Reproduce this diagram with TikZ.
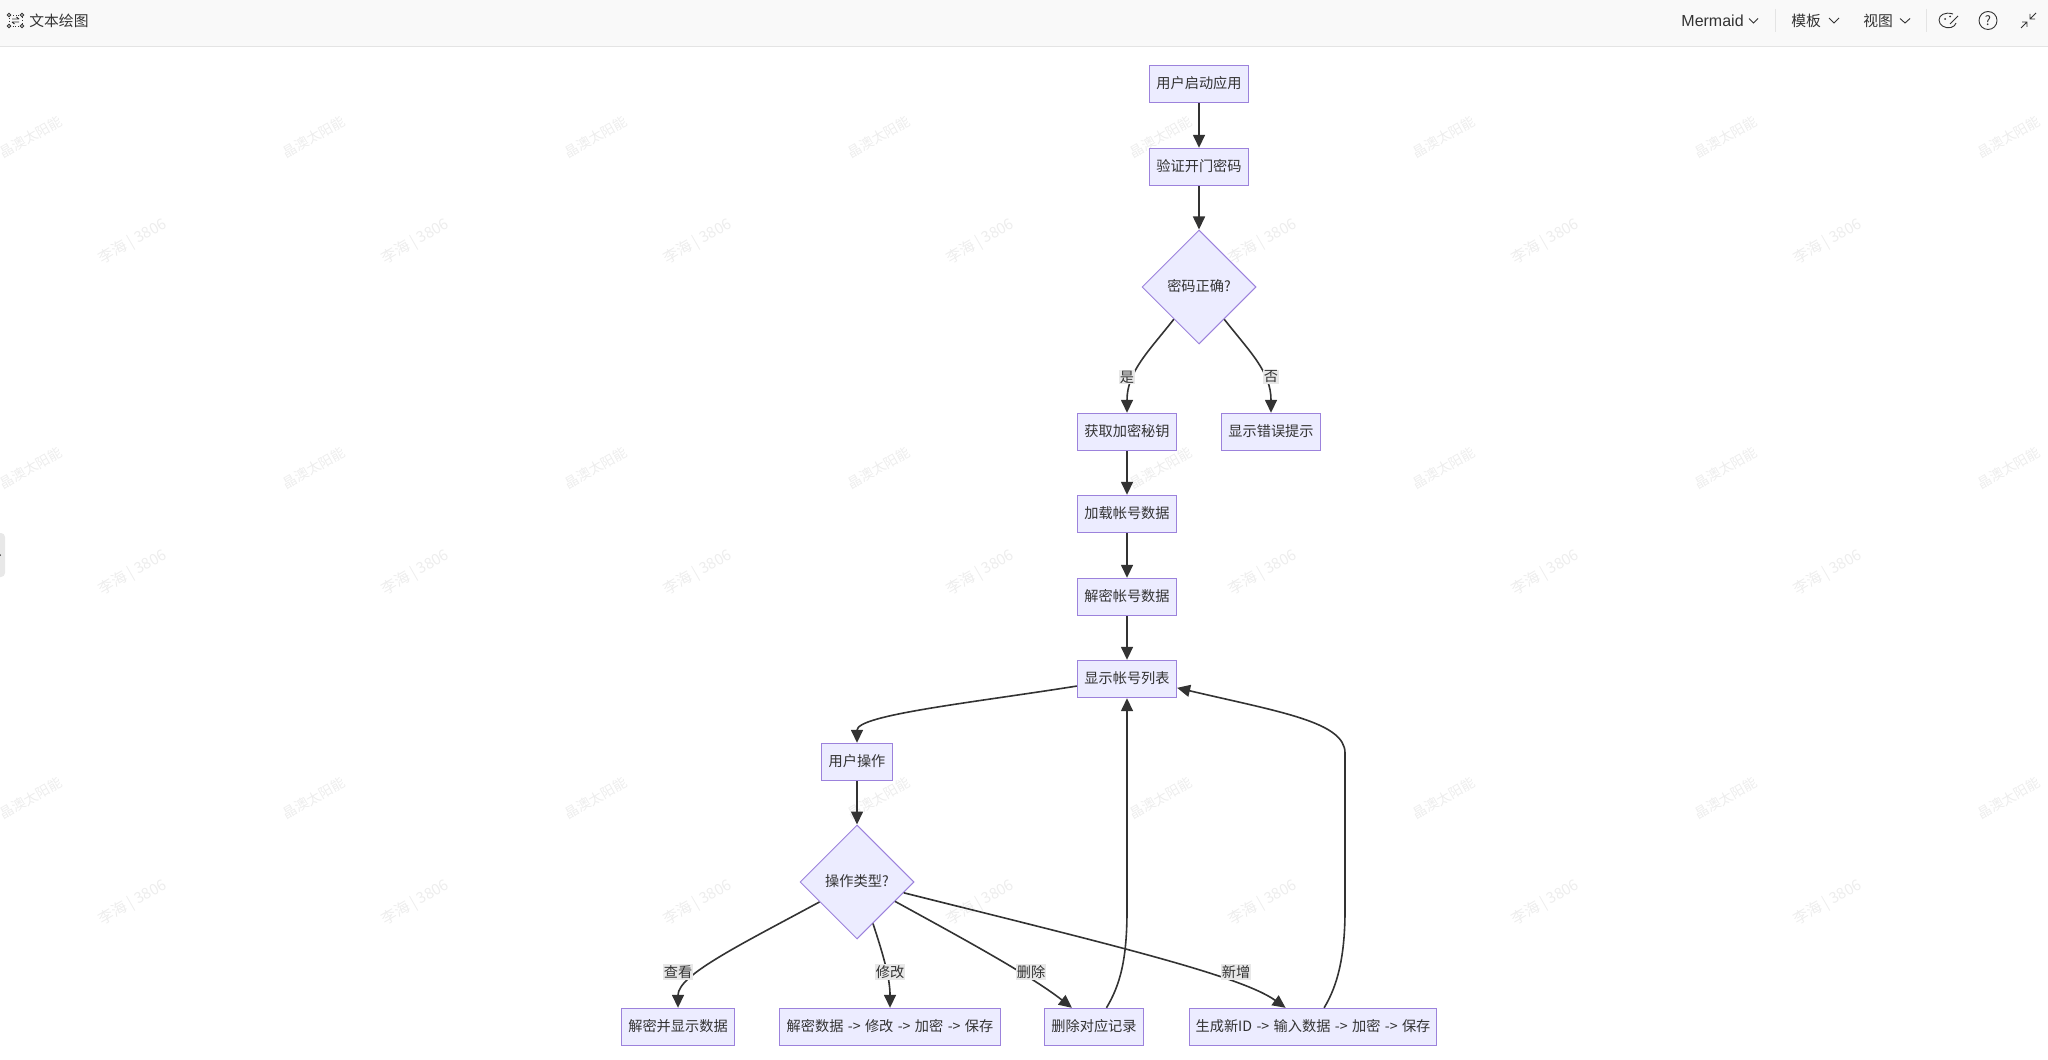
\documentclass[tikz,border=0pt]{standalone}
\usepackage{fontspec}
\setmainfont{Noto Sans CJK SC}
\newfontfamily\latinfont{Liberation Sans}
\usepackage{xcolor}
\usetikzlibrary{arrows.meta,shapes.geometric}
\definecolor{nodefill}{HTML}{ECECFF}
\definecolor{nodeline}{HTML}{9C82DC}
\definecolor{inkgray}{HTML}{333333}
\definecolor{labelbg}{HTML}{E8E8E8}
\definecolor{barbg}{HTML}{F9F9F9}
\definecolor{barline}{HTML}{E4E4E4}

\begin{document}
\begin{tikzpicture}[
    x=0.5pt, y=-0.5pt,
    box/.style={draw=nodeline, fill=nodefill, line width=0.5pt, minimum height=18.7pt,
                inner sep=0pt, text=inkgray, text height=6.2pt, text depth=2pt,
                font=\fontsize{7.1}{8.5}\selectfont},
    choice/.style={draw=nodeline, fill=nodefill, line width=0.5pt, diamond, minimum width=57pt,
                minimum height=57pt, inner sep=0pt, text=inkgray, text height=6.2pt, text depth=2pt,
                font=\fontsize{7.1}{8.5}\selectfont},
    arr/.style={-{Stealth[length=6.5pt, width=6pt, inset=0pt]}, line width=0.8pt, inkgray},
    lbl/.style={fill=labelbg, inner sep=0.5pt, text=inkgray, font=\fontsize{7.1}{8.5}\selectfont},
    bartext/.style={inner sep=0pt, text=inkgray, font=\fontsize{7.4}{9}\selectfont},
    icon/.style={inkgray, line width=0.45pt},
    mark1/.style={rotate=30, inner sep=0pt, text=black!7, font=\fontsize{6.9}{8}\selectfont},
    mark2/.style={rotate=30, inner sep=0pt, text=black!7, font=\fontsize{7.6}{9}\selectfont},
  ]
  \useasboundingbox (0,0) rectangle (2048,1059);

  % Watermark
  \foreach \wy in {137,468,798} \foreach \k in {0,...,7}
    \node[mark1] (wma\wy\k) at ({31+282.5*\k},\wy) {晶澳太阳能};
  \foreach \wy in {242,573,903} \foreach \k in {0,...,6}
    \node[mark2] (wmb\wy\k) at ({133+282.5*\k},\wy) {李海 | 3806};

  % Top bar
  \fill[barbg] (0,0) rectangle (2048,46);
  \draw[barline, line width=0.5pt] (0,46.5) -- (2048,46.5);
  \node[bartext, anchor=west] (title) at (29,21) {文本绘图};
  \node[bartext, anchor=west] (mode) at (1681,21) {\fontsize{8}{9}\selectfont\latinfont Mermaid};
  \node[bartext, anchor=west] (tmpl) at (1791,21) {模板};
  \node[bartext, anchor=west] (view) at (1863,21) {视图};
  \node[bartext] (help) at (1988,20.5) {\fontsize{6.5}{7}\selectfont ?};

  % Bar icons
  \draw[icon, densely dotted] (9,15) rectangle (22,26);
  \foreach \ix/\iy in {9/15,22/15,9/26,22/26} \draw[icon, fill=barbg] (\ix,\iy) circle (1.7);
  \draw[icon] (12,19) -- (19,19) (16.5,17) -- (19,19) (12,22) -- (19,22) (14.5,24) -- (12,22);
  \draw[icon] (1749,18.5) -- (1753.5,23) -- (1758,18.5);
  \draw[icon] (1829,18) -- (1834,23) -- (1839,18);
  \draw[icon] (1900,18.5) -- (1905,23) -- (1910,18.5);
  \draw[barline, line width=0.4pt] (1775,9) -- (1775,32) (1926,9) -- (1926,32);
  \draw[icon] (1953,14) .. controls (1945,11.5) and (1939,15) .. (1939,20)
    .. controls (1939,25) and (1945,29) .. (1951,27.5)
    .. controls (1954,27) and (1955,25) .. (1956,23);
  \draw[icon] (1958,16) -- (1950,24);
  \fill[inkgray] (1945,19) circle (1) (1950,16.5) circle (1);
  \draw[icon] (1988,20.5) circle (9);
  \draw[icon] (2036,13) -- (2030,19) (2030,14) -- (2030,19) -- (2035,19);
  \draw[icon] (2021,28) -- (2027,22) (2022,22) -- (2027,22) -- (2027,27);

  % Side tab
  \fill[labelbg, rounded corners=2pt] (-6,533) rectangle (5,577);
  \fill[inkgray] (0,555) circle (1);

  % Upper nodes
  \node[box, minimum width=49.6pt] (start) at (1199,84) {用户启动应用};
  \node[box, minimum width=49.6pt] (verify) at (1199,167) {验证开门密码};
  \node[choice] (pwd) at (1199,287) {密码正确?};
  \node[box, minimum width=49.6pt] (key) at (1127,432) {获取加密秘钥};
  \node[box, minimum width=49.6pt] (err) at (1271,432) {显示错误提示};
  \node[box, minimum width=49.6pt] (load) at (1127,514) {加载帐号数据};
  \node[box, minimum width=49.6pt] (decrypt) at (1127,597) {解密帐号数据};
  \node[box, minimum width=49.6pt] (list) at (1127,679) {显示帐号列表};
  \node[box, minimum width=35.6pt] (user) at (857,762) {用户操作};
  \node[choice] (op) at (857,882) {操作类型?};

  % Bottom row
  \node[box, minimum width=56.6pt] (show) at (678,1027) {解密并显示数据};
  \node[box, minimum width=110.1pt] (edit) at (890,1027) {解密数据\hspace{0.6pt} -> \hspace{0.6pt}修改\hspace{0.6pt} -> \hspace{0.6pt}加密\hspace{0.6pt} -> \hspace{0.6pt}保存};
  \node[box, minimum width=49.6pt] (del) at (1094,1027) {删除对应记录};
  \node[box, minimum width=123.6pt] (add) at (1313,1027) {生成新ID\hspace{0.6pt} -> \hspace{0.6pt}输入数据\hspace{0.6pt} -> \hspace{0.6pt}加密\hspace{0.6pt} -> \hspace{0.6pt}保存};

  % Straight arrows
  \draw[arr] (start) -- (verify);
  \draw[arr] (verify) -- (pwd);
  \draw[arr] (key) -- (load);
  \draw[arr] (load) -- (decrypt);
  \draw[arr] (decrypt) -- (list);
  \draw[arr] (user) -- (op);

  % Password branches
  \draw[arr] (pwd.232) .. controls (1148,352) and (1127,372) .. (key.north);
  \draw[arr] (pwd.-52) .. controls (1250,352) and (1271,372) .. (err.north);
  \node[lbl] (yes) at (1127,377) {是};
  \node[lbl] (no) at (1271,377) {否};

  % Menu
  \draw[arr] (list.188) .. controls (970,703) and (857,715) .. (user.north);

  % Operation branches
  \draw[arr] (op.208.4) .. controls (740,945) and (678,975) .. (show.north);
  \draw[arr] (op.-69) .. controls (885,960) and (890,980) .. (edit.north);
  \draw[arr] (op.-27.8) .. controls (960,937) and (1030,975) .. (del.139.2);
  \draw[arr] (op.-13.4) .. controls (1100,942) and (1240,975) .. (add.145.8);
  \node[lbl] (lview) at (678,972) {查看};
  \node[lbl] (ledit) at (890,972) {修改};
  \node[lbl] (ldel) at (1031,972) {删除};
  \node[lbl] (ladd) at (1236,972) {新增};

  % Back to the list
  \draw[arr] (del.57.7) .. controls (1120,985) and (1127,960) .. (1127,910) -- (list.south);
  \draw[arr] (add.60) .. controls (1338,985) and (1345,955) .. (1345,910) -- (1345,753)
    .. controls (1345,722) and (1280,712) .. (list.-10);
\end{tikzpicture}
\end{document}
